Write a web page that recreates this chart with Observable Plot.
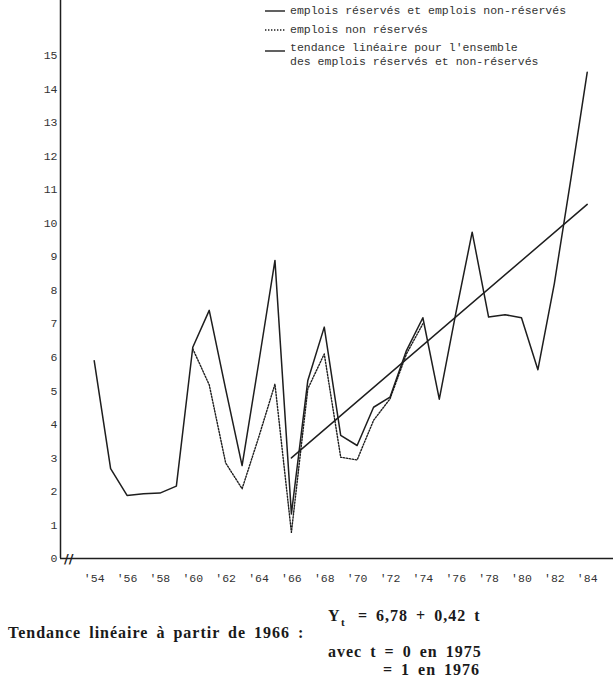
<!DOCTYPE html>
<html>
<head>
<meta charset="utf-8">
<script src="https://cdn.jsdelivr.net/npm/d3@7"></script>
<script src="https://cdn.jsdelivr.net/npm/@observablehq/plot@0.6"></script>
<style>
  html, body { margin: 0; padding: 0; background: #fff; }
  #wrap { position: relative; width: 613px; height: 678px; overflow: hidden; }
  .leg { position: absolute; font-family: "Liberation Mono", "DejaVu Sans Mono", monospace; font-size: 11.5px; line-height: 14px; color: #333; white-space: pre; }
  .cap { position: absolute; font-family: "Liberation Serif", "DejaVu Serif", serif; font-weight: bold; font-size: 16px; line-height: 13px; letter-spacing: 1px; word-spacing: 3px; color: #1a1a1a; white-space: pre; }
</style>
</head>
<body>
<div id="wrap"></div>
<script>
// ---- data ----
const years = [1954, 1955, 1956, 1957, 1958, 1959, 1960, 1961, 1962, 1963, 1964, 1965, 1966, 1967, 1968, 1969,
               1970, 1971, 1972, 1973, 1974, 1975, 1976, 1977, 1978, 1979, 1980, 1981, 1982, 1983, 1984];
const totalJobs = [5.9, 2.68, 1.88, 1.93, 1.95, 2.16, 6.3, 7.4, 5.05, 2.77, 5.8, 8.89, 1.33, 5.31, 6.9, 3.67,
                   3.37, 4.51, 4.81, 6.2, 7.18, 4.75, 7.3, 9.73, 7.2, 7.27, 7.18, 5.63, 8.2, 11.3, 14.5];
const nonReservedYears = [1960, 1961, 1962, 1963, 1964, 1965, 1966, 1967, 1968, 1969, 1970, 1971, 1972, 1973, 1974];
const nonReservedJobs = [6.25, 5.18, 2.85, 2.08, 3.6, 5.2, 0.78, 5.06, 6.1, 3.02, 2.94, 4.12, 4.76, 6.1, 7.0];
const trendYears = [1966, 1984];
const trendValues = [3.0, 10.56];
const xTicks = [1954, 1956, 1958, 1960, 1962, 1964, 1966, 1968, 1970, 1972, 1974, 1976, 1978, 1980, 1982, 1984];
const yTicks = [0, 1, 2, 3, 4, 5, 6, 7, 8, 9, 10, 11, 12, 13, 14, 15];
const axisBreak = [1952.45];
const legendLabels = [
  "emplois réservés et emplois non-réservés",
  "emplois non réservés",
  "tendance linéaire pour l'ensemble\ndes emplois réservés et non-réservés"
];
const captionLeft = "Tendance linéaire à partir de 1966 :";
const captionEq = ["= 6,78 + 0,42 t", "avec t = 0 en 1975", "= 1 en 1976"];

const xDomain = [1951.95, 1985.6];
const yDomain = [0, 16.64];

const total = years.map((y, i) => ({year: y, value: totalJobs[i]}));
const nonRes = nonReservedYears.map((y, i) => ({year: y, value: nonReservedJobs[i]}));
const trend = trendYears.map((y, i) => ({year: y, value: trendValues[i]}));

const ink = "#1e1e1e";

const chart = Plot.plot({
  width: 613,
  height: 590,
  marginLeft: 60,
  marginRight: 0,
  marginTop: 0,
  marginBottom: 32,
  x: {domain: xDomain},
  y: {domain: yDomain},
  style: {fontFamily: "'Liberation Mono', 'DejaVu Sans Mono', monospace", fontSize: "11.5px", color: "#333", background: "white", overflow: "visible"},
  marks: [
    Plot.axisY({ticks: yTicks, tickSize: 0, tickPadding: 3, label: null}),
    Plot.axisX({ticks: xTicks, tickFormat: d => "'" + String(d).slice(2), tickSize: 0, tickPadding: 15, label: null}),
    Plot.ruleX([xDomain[0]], {stroke: ink, strokeWidth: 1.5}),
    Plot.ruleY([0], {stroke: ink, strokeWidth: 1.5}),
    Plot.text(axisBreak, {x: d => d, y: () => 0, text: () => "//", fontSize: 13, fontWeight: "bold", fill: ink, fontFamily: "DejaVu Sans"}),
    Plot.line(nonRes, {x: "year", y: "value", stroke: ink, strokeWidth: 1.4, strokeDasharray: "1.4,1.6"}),
    Plot.line(total, {x: "year", y: "value", stroke: ink, strokeWidth: 1.5}),
    Plot.line(trend, {x: "year", y: "value", stroke: ink, strokeWidth: 1.5})
  ]
});

const wrap = document.getElementById("wrap");
wrap.appendChild(chart);

// legend (overlaid at top right of the plot area)
const legendRows = [
  {cy: 11, dash: null, label: legendLabels[0]},
  {cy: 30, dash: "1.4,1.6", label: legendLabels[1]},
  {cy: 48, dash: null, label: legendLabels[2], lineY: 51}
];
legendRows.forEach(r => {
  const s = document.createElementNS("http://www.w3.org/2000/svg", "svg");
  s.setAttribute("width", 24); s.setAttribute("height", 6);
  s.style.position = "absolute"; s.style.left = "264px"; s.style.top = ((r.lineY || r.cy) - 3) + "px";
  const l = document.createElementNS("http://www.w3.org/2000/svg", "line");
  l.setAttribute("x1", 1); l.setAttribute("x2", 21); l.setAttribute("y1", 3); l.setAttribute("y2", 3);
  l.setAttribute("stroke", ink); l.setAttribute("stroke-width", 1.4);
  if (r.dash) l.setAttribute("stroke-dasharray", r.dash);
  s.appendChild(l);
  wrap.appendChild(s);
  const d = document.createElement("div");
  d.className = "leg";
  d.style.left = "290px"; d.style.top = (r.cy - 7) + "px";
  d.textContent = r.label;
  wrap.appendChild(d);
});

// caption below the chart
function cap(text, left, center, extra) {
  const d = document.createElement("div");
  d.className = "cap";
  d.style.left = left + "px";
  d.style.top = (center - 6.5) + "px";
  d.textContent = text;
  if (extra) Object.assign(d.style, extra);
  wrap.appendChild(d);
  return d;
}
cap(captionLeft, 8, 632);
cap("Y", 328, 615);
cap("t", 341, 624, {fontSize: "11px", lineHeight: "9px"});
cap(captionEq[0], 358, 615);
cap(captionEq[1], 328, 651);
cap(captionEq[2], 383, 669);
</script>
</body>
</html>
